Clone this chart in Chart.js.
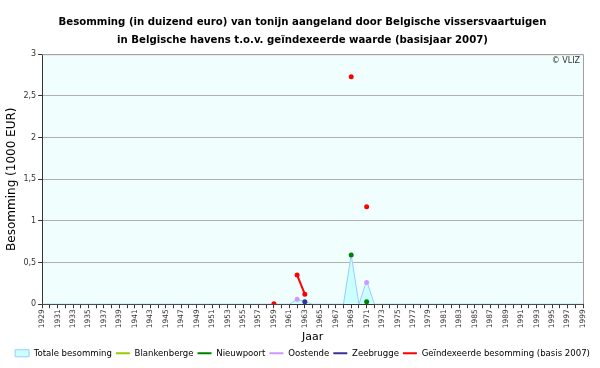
<!DOCTYPE html>
<html>
<head>
<meta charset="utf-8">
<script src="https://cdn.jsdelivr.net/npm/chart.js@4/dist/chart.umd.min.js"></script>
<style>
  html, body { margin: 0; padding: 0; background: #fff; }
  #wrap { width: 600px; height: 368px; }
</style>
</head>
<body>
<div id="wrap"><canvas id="besommingChart" width="600" height="368"></canvas></div>
<script>
"use strict";

// Jaren op de x-as
const jaren = [
    "1929", "1930", "1931", "1932", "1933", "1934", "1935", "1936", "1937", "1938",
    "1939", "1940", "1941", "1942", "1943", "1944", "1945", "1946", "1947", "1948",
    "1949", "1950", "1951", "1952", "1953", "1954", "1955", "1956", "1957", "1958",
    "1959", "1960", "1961", "1962", "1963", "1964", "1965", "1966", "1967", "1968",
    "1969", "1970", "1971", "1972", "1973", "1974", "1975", "1976", "1977", "1978",
    "1979", "1980", "1981", "1982", "1983", "1984", "1985", "1986", "1987", "1988",
    "1989", "1990", "1991", "1992", "1993", "1994", "1995", "1996", "1997", "1998",
    "1999"
];

// Alleen de jaren met aanlandingen (1000 EUR)
const totaalJaren = ["1962", "1963", "1969", "1971"];
const totaalWaarden = [0.06, 0.03, 0.59, 0.28];

const blankenbergeJaren = [];
const blankenbergeWaarden = [];

const nieuwpoortJaren = ["1969", "1971"];
const nieuwpoortWaarden = [0.59, 0.03];

const oostendeJaren = ["1962", "1971"];
const oostendeWaarden = [0.06, 0.26];

const zeebruggeJaren = ["1963"];
const zeebruggeWaarden = [0.03];

const geindexeerdJaren = ["1959", "1962", "1963", "1969", "1971"];
const geindexeerdWaarden = [0.005, 0.35, 0.12, 2.73, 1.17];

// Y-as labels
const yTicks = [0, 0.5, 1, 1.5, 2, 2.5, 3];

// Zet de losse jaren om naar een reeks over alle jaren
function reeks(jr, waarden, leeg) {
    return jaren.map((j) => {
        let i = jr.indexOf(j);
        return i < 0 ? leeg : waarden[i];
    });
}

// Achtergrond van de plot en rand rechts
const plotAchtergrond = {
    id: "plotAchtergrond",
    beforeDraw(chart) {
        const a = chart.chartArea;
        const ctx = chart.ctx;
        ctx.save();
        ctx.fillStyle = "#f0fefe";
        ctx.fillRect(a.left, a.top, a.right - a.left, a.bottom - a.top);
        ctx.restore();
    },
    afterDraw(chart) {
        const a = chart.chartArea;
        const ctx = chart.ctx;
        ctx.save();
        ctx.strokeStyle = "#a0a0a0";
        ctx.lineWidth = 1;
        ctx.beginPath();
        ctx.moveTo(a.left, a.top + 0.5);
        ctx.lineTo(a.right + 0.5, a.top + 0.5);
        ctx.lineTo(a.right + 0.5, a.bottom);
        ctx.stroke();
        ctx.fillStyle = "#333";
        ctx.font = "8px 'DejaVu Sans'";
        ctx.textAlign = "right";
        ctx.textBaseline = "top";
        ctx.fillText("© VLIZ", a.right - 3, a.top + 3);
        ctx.restore();
    }
};

const ctx = document.getElementById("besommingChart");

new Chart(ctx, {
    type: "line",
    data: {
        labels: jaren,
        datasets: [
            {
                label: "Totale besomming",
                data: reeks(totaalJaren, totaalWaarden, 0),
                fill: "origin",
                backgroundColor: "#ccffff",
                borderColor: "#99ccff",
                borderWidth: 1,
                pointRadius: 0,
                tension: 0,
                order: 10
            },
            {
                label: "Blankenberge",
                data: reeks(blankenbergeJaren, blankenbergeWaarden, null),
                borderColor: "#99cc00",
                backgroundColor: "#99cc00",
                borderWidth: 2,
                pointRadius: 1.5,
                spanGaps: false
            },
            {
                label: "Nieuwpoort",
                data: reeks(nieuwpoortJaren, nieuwpoortWaarden, null),
                borderColor: "#008000",
                backgroundColor: "#008000",
                borderWidth: 2,
                pointRadius: 1.5,
                spanGaps: false
            },
            {
                label: "Oostende",
                data: reeks(oostendeJaren, oostendeWaarden, null),
                borderColor: "#cc99ff",
                backgroundColor: "#cc99ff",
                borderWidth: 2,
                pointRadius: 1.5,
                spanGaps: false
            },
            {
                label: "Zeebrugge",
                data: reeks(zeebruggeJaren, zeebruggeWaarden, null),
                borderColor: "#333399",
                backgroundColor: "#333399",
                borderWidth: 2,
                pointRadius: 1.5,
                spanGaps: false
            },
            {
                label: "Geïndexeerde besomming (basis 2007)",
                data: reeks(geindexeerdJaren, geindexeerdWaarden, null),
                borderColor: "#ff0000",
                backgroundColor: "#ff0000",
                borderWidth: 2,
                pointRadius: 1.5,
                spanGaps: false
            }
        ]
    },
    options: {
        responsive: false,
        animation: false,
        layout: { padding: { left: 5, right: 0, top: 9, bottom: 0 } },
        plugins: {
            title: {
                display: true,
                text: [
                    "Besomming (in duizend euro) van tonijn aangeland door Belgische vissersvaartuigen",
                    "in Belgische havens t.o.v. geïndexeerde waarde (basisjaar 2007)"
                ],
                color: "#000",
                font: { family: "'DejaVu Sans Condensed', 'DejaVu Sans'", size: 11.3, weight: "bold", lineHeight: 1.6 },
                padding: { top: 4, bottom: 5 }
            },
            legend: {
                position: "bottom",
                labels: {
                    color: "#000",
                    font: { family: "'DejaVu Sans Condensed', 'DejaVu Sans'", size: 9.5 },
                    usePointStyle: true,
                    pointStyleWidth: 14,
                    boxHeight: 7,
                    padding: 4,
                    sort: (a, b) => a.datasetIndex - b.datasetIndex,
                    generateLabels(chart) {
                        const items = Chart.defaults.plugins.legend.labels.generateLabels(chart);
                        items.forEach((it) => {
                            it.pointStyle = it.datasetIndex === 0 ? "rect" : "line";
                            it.lineWidth = it.datasetIndex === 0 ? 1 : 2;
                        });
                        return items;
                    }
                }
            },
            tooltip: { enabled: false }
        },
        scales: {
            x: {
                offset: false,
                afterFit(scale) {
                    scale.paddingRight = 17;
                },
                title: {
                    display: true,
                    text: "Jaar",
                    color: "#000",
                    font: { family: "'DejaVu Sans'", size: 11 },
                    padding: { top: 1, bottom: 1 }
                },
                ticks: {
                    autoSkip: false,
                    minRotation: 90,
                    maxRotation: 90,
                    color: "#333",
                    font: { family: "'DejaVu Sans'", size: 7.5 },
                    padding: 1,
                    callback: function (val, i) {
                        return i % 2 === 0 ? this.getLabelForValue(val) : "";
                    }
                },
                grid: {
                    drawOnChartArea: false,
                    drawTicks: true,
                    tickLength: 4,
                    tickColor: "#333"
                },
                border: { color: "#333" }
            },
            y: {
                min: 0,
                max: 3,
                afterBuildTicks(scale) {
                    scale.ticks = yTicks.map((v) => ({ value: v }));
                },
                title: {
                    display: true,
                    text: "Besomming (1000 EUR)",
                    color: "#000",
                    font: { family: "'DejaVu Sans'", size: 12 },
                    padding: { top: 0, bottom: 2 }
                },
                ticks: {
                    color: "#333",
                    font: { family: "'DejaVu Sans'", size: 8 },
                    padding: 2,
                    callback: (v) => String(v).replace(".", ",")
                },
                grid: {
                    color: "#b0b0b0",
                    tickLength: 4,
                    tickColor: "#333"
                },
                border: { color: "#333" }
            }
        }
    },
    plugins: [plotAchtergrond]
});
</script>
</body>
</html>
